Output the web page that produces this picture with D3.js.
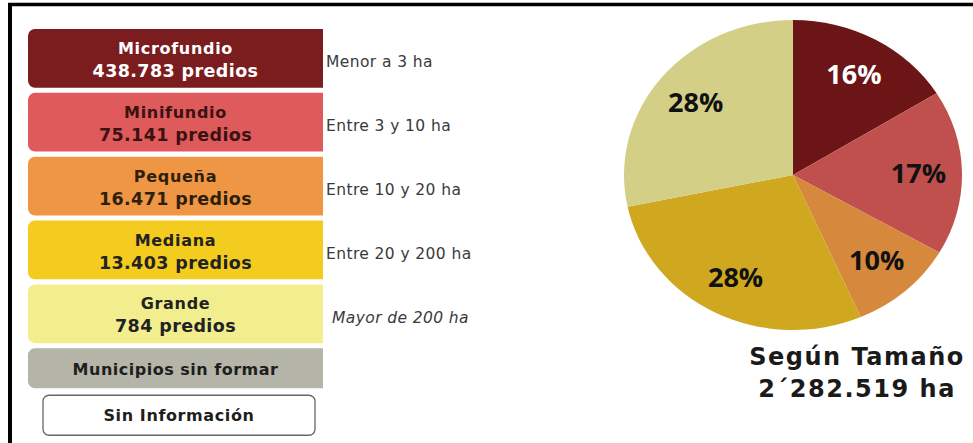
<!DOCTYPE html>
<html>
<head>
<meta charset="utf-8">
<script src="https://cdn.jsdelivr.net/npm/d3@7"></script>
<style>
  body { margin: 0; background: #fff; }
  svg { display: block; }
</style>
</head>
<body>
<svg id="chart" width="973" height="443"></svg>
<script>
const categories = ["Microfundio", "Minifundio", "Pequeña", "Mediana", "Grande"];
const predios = ["438.783", "75.141", "16.471", "13.403", "784"];
const rangos = ["Menor a 3 ha", "Entre 3 y 10 ha", "Entre 10 y 20 ha", "Entre 20 y 200 ha", "Mayor de 200 ha"];
const shares = [16, 17, 10, 28, 28];
const boxColors = ["#7b1c1f", "#de5a5b", "#ef9644", "#f4cb1f", "#f2ee8e"];
const pieColors = ["#6c1517", "#c0504e", "#d6883d", "#cfa820", "#d4cf87"];
const textColors = ["#ffffff", "#3a1212", "#2e1f0c", "#222222", "#222222"];
const extraRows = ["Municipios sin formar", "Sin Información"];
const totalLabel = ["Según Tamaño", "2´282.519 ha"];

const svg = d3.select("#chart");

// frame
svg.append("line").attr("x1", 8).attr("x2", 973).attr("y1", 4.5).attr("y2", 4.5)
    .attr("stroke", "#000").attr("stroke-width", 3.5);
svg.append("line").attr("x1", 10).attr("x2", 10).attr("y1", 3).attr("y2", 443)
    .attr("stroke", "#000").attr("stroke-width", 4);

// legend rows
const rows = categories.concat([extraRows[0]]);
const y = d3.scaleBand()
    .domain(rows)
    .range([29, 29 + 6 * 63])
    .paddingInner(0.08)
    .paddingOuter(0);

const boxX = 28, boxW = 295, r = 7;

function leftRounded(x, y0, w, h) {
    const p = d3.path();
    p.moveTo(x + w, y0);
    p.lineTo(x + r, y0);
    p.arcTo(x, y0, x, y0 + r, r);
    p.lineTo(x, y0 + h - r);
    p.arcTo(x, y0 + h, x + r, y0 + h, r);
    p.lineTo(x + w, y0 + h);
    p.closePath();
    return p.toString();
}

const g = svg.append("g");
categories.forEach((c, i) => {
    const top = y(c), h = y.bandwidth();
    g.append("path").attr("d", leftRounded(boxX, top, boxW, h)).attr("fill", boxColors[i]);
    g.append("text")
        .attr("x", boxX + boxW / 2).attr("y", top + 25)
        .attr("text-anchor", "middle")
        .attr("font-family", "DejaVu Sans").attr("font-weight", "bold")
        .attr("font-size", 16).attr("letter-spacing", 0.7).attr("fill", textColors[i])
        .text(c);
    g.append("text")
        .attr("x", boxX + boxW / 2).attr("y", top + 48)
        .attr("text-anchor", "middle")
        .attr("font-family", "DejaVu Sans").attr("font-weight", "bold")
        .attr("font-size", 17.5).attr("letter-spacing", 0.4).attr("fill", textColors[i])
        .text(predios[i] + " predios");
    g.append("text")
        .attr("x", i === 4 ? 332 : 326).attr("y", top + h / 2 + 9)
        .attr("font-family", "DejaVu Sans").attr("font-size", 15.5)
        .attr("letter-spacing", 0.4)
        .attr("font-style", i === 4 ? "italic" : "normal")
        .attr("fill", "#3a3a3a")
        .text(rangos[i]);
});

// Municipios sin formar
const mTop = y(extraRows[0]);
g.append("path").attr("d", leftRounded(boxX, mTop, boxW, 40)).attr("fill", "#b4b4a8");
g.append("text")
    .attr("x", boxX + boxW / 2).attr("y", mTop + 27)
    .attr("text-anchor", "middle")
    .attr("font-family", "DejaVu Sans").attr("font-weight", "bold")
    .attr("font-size", 16).attr("letter-spacing", 0.5).attr("fill", "#1e1e1e")
    .text(extraRows[0]);

// Sin Información
g.append("rect")
    .attr("x", 43).attr("y", mTop + 47).attr("width", 272).attr("height", 40)
    .attr("rx", 6).attr("fill", "#fff").attr("stroke", "#666").attr("stroke-width", 1.3);
g.append("text")
    .attr("x", 43 + 136).attr("y", mTop + 47 + 26)
    .attr("text-anchor", "middle")
    .attr("font-family", "DejaVu Sans").attr("font-weight", "bold")
    .attr("font-size", 16).attr("letter-spacing", 0.6).attr("fill", "#1e1e1e")
    .text(extraRows[1]);

// pie
const cx = 793, cy = 175, ry = 155, rx = 169;
const sx = rx / ry;
const pie = d3.pie().sort(null).value(d => d);
const arcs = pie(shares);
const arc = d3.arc().innerRadius(0).outerRadius(ry);
const labelArc = d3.arc().innerRadius(115).outerRadius(115);

const pieG = svg.append("g").attr("transform", `translate(${cx},${cy}) scale(${sx},1)`);
pieG.selectAll("path")
    .data(arcs)
    .join("path")
    .attr("d", arc)
    .attr("fill", (d, i) => pieColors[i]);

svg.append("g").attr("transform", `translate(${cx},${cy})`)
    .selectAll("text")
    .data(arcs)
    .join("text")
    .attr("x", d => labelArc.centroid(d)[0] * sx)
    .attr("y", d => labelArc.centroid(d)[1])
    .attr("dy", "0.36em")
    .attr("text-anchor", "middle")
    .attr("font-family", "Open Sans").attr("font-weight", 700)
    .attr("font-size", 27)
    .attr("fill", (d, i) => i === 0 ? "#fff" : "#111")
    .text(d => d.data + "%");

// total
svg.append("g").selectAll("text")
    .data(totalLabel)
    .join("text")
    .attr("x", 857)
    .attr("y", (d, i) => 365 + i * 32)
    .attr("text-anchor", "middle")
    .attr("font-family", "DejaVu Sans").attr("font-weight", "bold")
    .attr("font-size", 24).attr("letter-spacing", 1.5)
    .attr("fill", "#1a1a1a")
    .text(d => d);
</script>
</body>
</html>
